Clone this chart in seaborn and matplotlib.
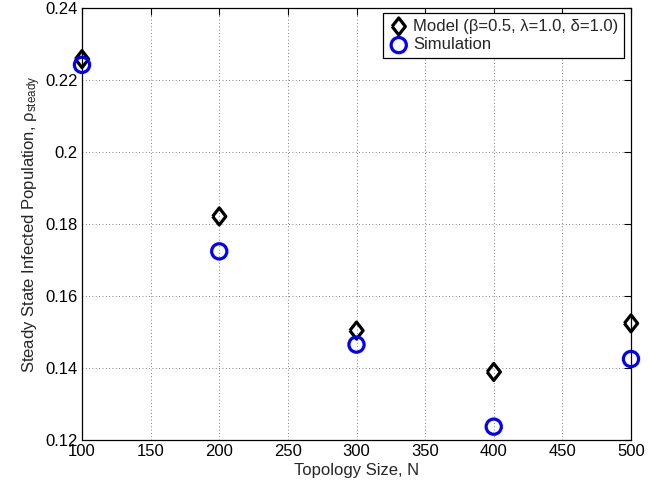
import matplotlib
matplotlib.use("Agg")
import matplotlib.pyplot as plt
import seaborn as sns
import pandas as pd
from matplotlib.ticker import FuncFormatter

sizes = [100, 200, 300, 400, 500]
model_vals = [0.2258, 0.1821, 0.1504, 0.1389, 0.1524]
sim_vals = [0.2242, 0.1724, 0.1465, 0.1237, 0.1425]
model_label = "Model (β=0.5, λ=1.0, δ=1.0)"
sim_label = "Simulation"
x_ticks = [100, 150, 200, 250, 300, 350, 400, 450, 500]
y_ticks = [0.12, 0.14, 0.16, 0.18, 0.20, 0.22, 0.24]

sns.set_style("white")
plt.rcParams['font.family'] = ['Liberation Sans', 'DejaVu Sans']
plt.rcParams['mathtext.fontset'] = 'custom'
plt.rcParams['mathtext.rm'] = 'Liberation Sans'
plt.rcParams['mathtext.it'] = 'Liberation Sans'

df_model = pd.DataFrame({"N": sizes, "rho": model_vals})
df_sim = pd.DataFrame({"N": sizes, "rho": sim_vals})

fig = plt.figure(figsize=(6.72, 4.87), dpi=100)
L, R, T, B = 82, 631, 8, 440
ax = fig.add_axes([L/672, 1-B/487, (R-L)/672, (B-T)/487])

diamond = [(-0.78, 0), (0, 1), (0.78, 0), (0, -1), (-0.78, 0)]
sns.scatterplot(data=df_model, x="N", y="rho", ax=ax, marker=diamond, s=150,
                facecolor="none", edgecolor="black", linewidth=2.3,
                label=model_label, zorder=3, clip_on=False)
sns.scatterplot(data=df_sim, x="N", y="rho", ax=ax, marker="o", s=120,
                facecolor="none", edgecolor="#0000ff", linewidth=2.3,
                label=sim_label, zorder=3, clip_on=False)

ax.set_xlim(100, 500)
ax.set_ylim(0.12, 0.24)
ax.set_xticks(x_ticks)
ax.set_yticks(y_ticks)
ax.yaxis.set_major_formatter(FuncFormatter(lambda v, p: f"{v:g}"))
ax.grid(True, linestyle=(0, (1, 3)), color="#555555", linewidth=0.6)
ax.tick_params(direction="in", length=5, width=0.8, top=True, right=True,
               labelsize=12, colors="black", pad=3)
for sp in ax.spines.values():
    sp.set_color("black")
    sp.set_linewidth(0.9)

ax.set_xlabel("Topology Size, N", fontsize=12, labelpad=3)
ax.set_ylabel(r"Steady State Infected Population, ρ$_{\mathrm{steady}}$", fontsize=12, labelpad=2)

leg = ax.legend(loc="upper right", bbox_to_anchor=((624-L)/(R-L), 1-(13-T)/(B-T)),
                borderaxespad=0, fancybox=False, edgecolor="black", framealpha=1,
                fontsize=12, handletextpad=0.25, borderpad=0.35,
                labelspacing=0.22, handlelength=1.2)
leg.get_frame().set_linewidth(0.9)

fig.savefig("out.png", dpi=100)
